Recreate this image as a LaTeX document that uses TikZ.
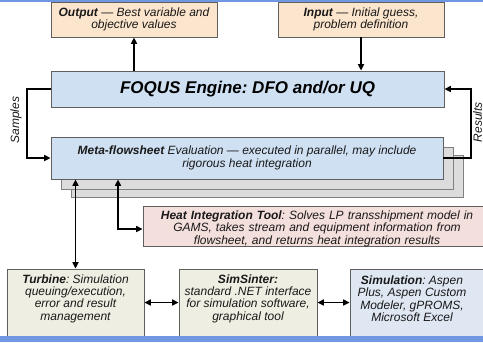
\documentclass[tikz,border=0pt]{standalone}
\usepackage{fontspec}
\setmainfont{Liberation Sans}
\usetikzlibrary{arrows.meta}
\frenchspacing
\definecolor{peach}{RGB}{252,229,205}
\definecolor{lblue}{RGB}{207,224,243}
\definecolor{hpink}{RGB}{243,223,219}
\definecolor{olive}{RGB}{238,238,226}
\definecolor{sblue}{RGB}{222,231,242}
\definecolor{shad}{RGB}{220,220,220}
\definecolor{strip}{RGB}{112,152,226}
\definecolor{edge}{RGB}{95,95,95}
\definecolor{txt}{RGB}{25,25,25}
\tikzset{
  box/.style={draw=edge, line width=0.8bp, inner sep=0pt, align=center, text=txt,
    font=\fontsize{12bp}{12.6bp}\selectfont\itshape},
  txtnode/.style={inner sep=0pt, align=center, text=txt,
    font=\fontsize{12bp}{12.4bp}\selectfont\itshape},
  conn/.style={line width=1.5bp, black},
  arr/.style={conn, -{Triangle[length=6.5bp,width=6bp]}},
  darr/.style={conn, {Triangle[length=6.5bp,width=6bp]}-{Triangle[length=6.5bp,width=6bp]}},
  shadowbox/.style={draw=gray, fill=shad, line width=0.8bp},
  sidelabel/.style={inner sep=0pt, text=txt, rotate=90,
    font=\fontsize{12bp}{12bp}\selectfont\itshape}
}
\begin{document}
\begin{tikzpicture}[x=1bp,y=-1bp]
\useasboundingbox (0,0) rectangle (483,342);
\fill[white] (0,0) rectangle (483,342);

% top boxes
\node[box, fill=peach, minimum width=166bp, minimum height=35bp] (out) at (134,19.5)
  {\textbf{Output} — Best variable and\\objective values};
\node[box, fill=peach, minimum width=166bp, minimum height=35bp] (inp) at (361,19.5)
  {\textbf{Input} — Initial guess,\\problem definition};

% engine
\node[box, fill=lblue, minimum width=393bp, minimum height=36bp,
  font=\fontsize{17bp}{20bp}\selectfont\bfseries\itshape, text=black] (eng) at (247.5,89)
  {FOQUS Engine: DFO and/or UQ};

% shadows of meta-flowsheet
\node[shadowbox, minimum width=392bp, minimum height=42bp] (sh2) at (267,176) {};
\node[shadowbox, minimum width=392bp, minimum height=42bp] (sh1) at (257,168) {};
\node[box, fill=lblue, minimum width=392bp, minimum height=42bp] (meta) at (247,158)
  {\textbf{Meta-flowsheet} Evaluation — executed in parallel, may include\\rigorous heat integration};

% heat integration
\node[box, fill=hpink, minimum width=348bp, minimum height=40bp] (heat) at (317,226) {};
\node[txtnode, text width=340bp] (heattext) at (317,228.5)
  {\textbf{Heat Integration Tool}: Solves LP transshipment model in\\GAMS, takes stream and equipment information from\\flowsheet, and returns heat integration results};

% bottom boxes
\node[box, fill=olive, minimum width=137bp, minimum height=67bp] (turb) at (75.5,302.5) {};
\node[txtnode] (turbtext) at (75.5,298.5)
  {\textbf{Turbine}: Simulation\\queuing/execution,\\error and result\\management};
\node[box, fill=olive, minimum width=138bp, minimum height=67bp] (sims) at (248,302.5) {};
\node[txtnode] (simstext) at (248,298.5)
  {\textbf{SimSinter:}\\standard .NET interface\\for simulation software,\\graphical tool};
\node[box, fill=sblue, minimum width=140bp, minimum height=67bp] (simu) at (420,302.5) {};
\node[txtnode] (simutext) at (412,298.5)
  {\textbf{Simulation}: Aspen\\Plus, Aspen Custom\\Modeler, gPROMS,\\Microsoft Excel};

% strips
\fill[strip] (0,0) rectangle (483,1.5);
\fill[strip] (0,336) rectangle (483,342);

% connectors
\coordinate (sl) at (27,89);
\coordinate (rr) at (471,89);
\coordinate (hc) at (118,229);
\draw[arr] (eng.north -| out.south) -- (out.south);
\draw[arr] (inp.south) -- (inp.south |- eng.north);
\draw[arr] (eng.west) -- (sl) |- (meta.west);
\draw[arr] (meta.east) -| (rr) -- (eng.east);
\draw[darr] (meta.south -| turb.north) -- (turb.north);
\draw[darr] (meta.south -| hc) -- (hc) -- (hc -| heat.west);
\draw[darr] (turb.east) -- (sims.west);
\draw[darr] (sims.east) -- (simu.west);

% side labels
\node[sidelabel] (samples) at (16,120) {Samples};
\node[sidelabel] (results) at (477.6,122) {Results};
\end{tikzpicture}
\end{document}
